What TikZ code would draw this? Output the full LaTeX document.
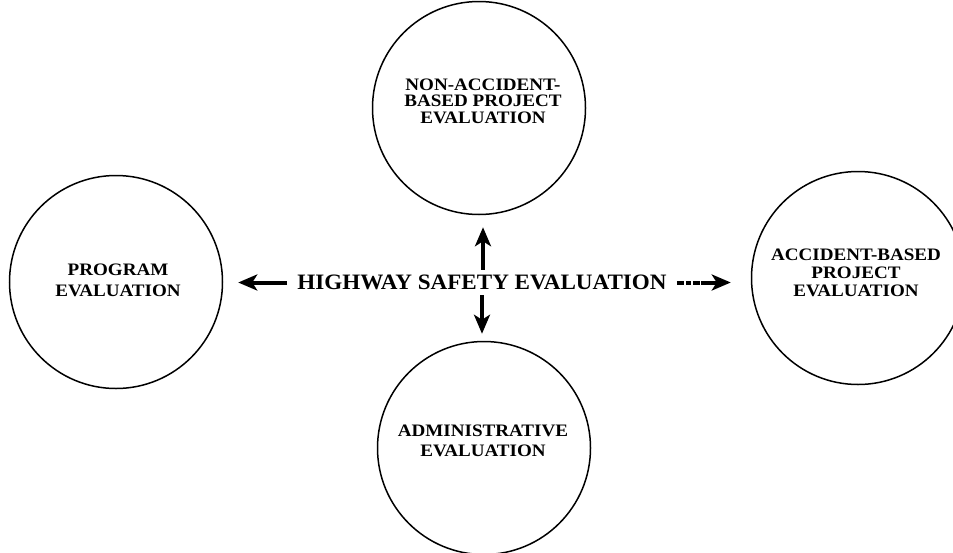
\documentclass[tikz,border=0pt]{standalone}
\usepackage{fontspec}
\setmainfont{Liberation Serif}
\newfontfamily\wideserif{Liberation Serif}[FakeStretch=1.09]
\newfontfamily\mainserif{Liberation Serif}[FakeStretch=1.05]
\usetikzlibrary{arrows.meta}
\tikzset{
  circ/.style={draw, circle, line width=1.5pt, minimum size=213pt, inner sep=0pt},
  ctext/.style={align=center, inner sep=0pt, font=\wideserif\bfseries\fontsize{17.5}{#1}\selectfont},
  ctext/.default={16},
  maintext/.style={inner sep=0pt, font=\mainserif\bfseries\fontsize{22}{24}\selectfont},
  bigarrow/.style={line width=4pt, -{Stealth[length=19pt,width=16pt,inset=5pt]}},
}
\begin{document}
\begin{tikzpicture}[x=1pt,y=-1pt]
\useasboundingbox (0,0) rectangle (953,552);
% circles
\node[circ] (prog) at (116,282) {};
\node[circ] (nonacc) at (479,108) {};
\node[circ] (acc) at (858,278) {};
\node[circ] (admin) at (484,448) {};
% circle texts
\node[ctext=21] (progt) at (118,280) {PROGRAM\\EVALUATION};
\node[ctext=16.5] (nonacct) at (483,101) {NON-ACCIDENT-\\BASED PROJECT\\EVALUATION};
\node[ctext=18.3] (acct) at (856,273) {ACCIDENT-BASED\\PROJECT\\EVALUATION};
\node[ctext=20] (admint) at (483,441) {ADMINISTRATIVE\\EVALUATION};
% central text
\node[maintext] (hse) at (482,282.5) {HIGHWAY SAFETY EVALUATION};
% arrows
\draw[bigarrow, shorten <=10pt, shorten >=15pt] (hse.west) -- (prog.east |- hse.west);
\draw[bigarrow, shorten <=5pt, shorten >=12pt] ([xshift=1pt]hse.north) -- ([xshift=1pt]hse.north |- nonacc.south);
\draw[bigarrow, shorten <=5pt, shorten >=7pt] (hse.south) -- (hse.south |- admin.north);
\draw[line width=4pt, dash pattern=on 7pt off 2pt on 5pt off 2pt, shorten <=10pt, shorten >=44pt] (hse.east) -- (acc.west |- hse.east);
\draw[bigarrow, shorten <=34pt, shorten >=20pt] (hse.east) -- (acc.west |- hse.east);
\end{tikzpicture}
\end{document}
